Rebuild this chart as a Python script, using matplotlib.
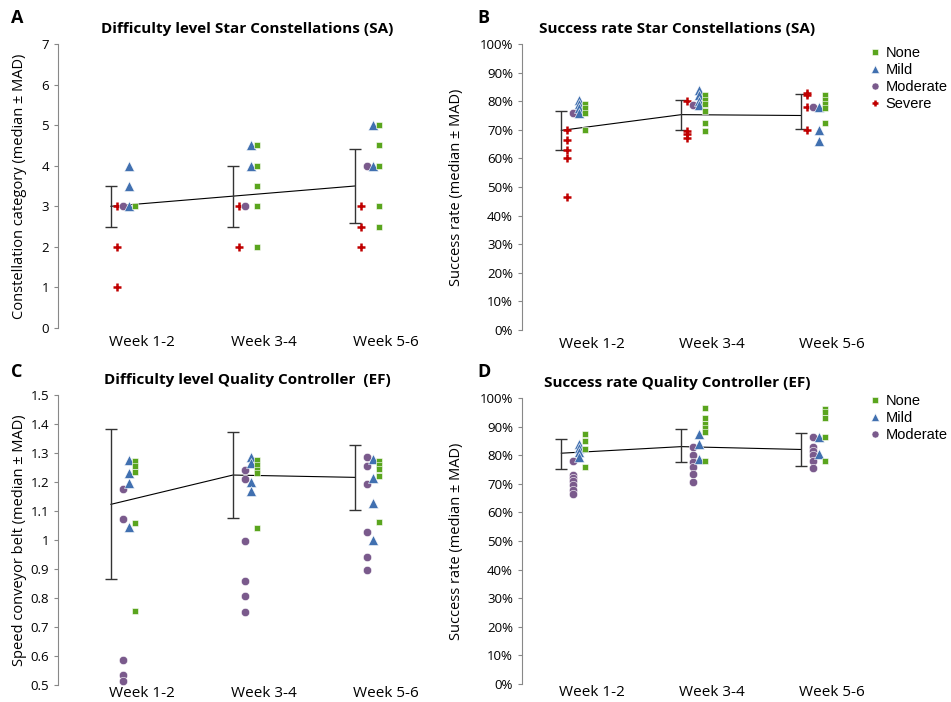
import matplotlib
matplotlib.use("Agg")
import matplotlib.pyplot as plt
from matplotlib.ticker import FuncFormatter, MultipleLocator

plt.rcParams['font.family'] = ['Open Sans', 'DejaVu Sans']

weeks = ["Week 1-2", "Week 3-4", "Week 5-6"]

# A: difficulty level, Star Constellations (SA)
sa_diff_none = [[3], [4.5, 4, 3.5, 3, 2], [5, 4.5, 4, 3, 2.5]]
sa_diff_mild = [[4, 3.5, 3], [4.5, 4], [5, 4]]
sa_diff_moderate = [[3], [3], [4]]
sa_diff_severe = [[3, 2, 1], [3, 2], [3, 2.5, 2]]
sa_diff_median = [3.0, 3.25, 3.5]
sa_diff_lo = [2.5, 2.5, 2.6]
sa_diff_hi = [3.5, 4.0, 4.4]

# B: success rate, Star Constellations (SA)
sa_rate_none = [[79, 77.5, 76, 70], [82, 80.5, 79, 76.5, 72.5, 69.5], [82, 80.5, 79, 77.5, 72.5]]
sa_rate_mild = [[80.5, 79, 77.5, 76], [84, 82, 80, 78.5], [78, 70, 66]]
sa_rate_moderate = [[76], [78.5], [78]]
sa_rate_severe = [[70, 66.5, 63, 60, 46.5], [80, 69.5, 68.5, 67], [83, 82, 78, 70]]
sa_rate_median = [69.8, 75.3, 75.0]
sa_rate_lo = [62.8, 70.0, 70.3]
sa_rate_hi = [76.4, 80.4, 82.4]

# C: difficulty level, Quality Controller (EF)
ef_diff_none = [[1.273, 1.255, 1.236, 1.058, 0.755], [1.276, 1.259, 1.241, 1.23, 1.04],
                [1.273, 1.259, 1.244, 1.22, 1.062]]
ef_diff_mild = [[1.276, 1.23, 1.198, 1.046], [1.287, 1.264, 1.201, 1.169], [1.28, 1.214, 1.129, 0.999]]
ef_diff_moderate = [[1.176, 1.071, 0.585, 0.535, 0.515], [1.24, 1.212, 0.998, 0.86, 0.808, 0.752],
                    [1.286, 1.255, 1.193, 1.027, 0.941, 0.895]]
ef_diff_median = [1.123, 1.224, 1.216]
ef_diff_lo = [0.864, 1.076, 1.103]
ef_diff_hi = [1.382, 1.373, 1.328]

# D: success rate, Quality Controller (EF)
ef_rate_none = [[87.5, 85, 82, 76], [96.5, 93, 91, 89.5, 88, 78], [96, 95, 93, 86.5, 78]]
ef_rate_mild = [[84, 82.5, 81, 79.5], [87.5, 84, 78.5], [86.5, 80.5]]
ef_rate_moderate = [[78, 73, 72, 71, 69.5, 68, 66.5], [83, 80, 77.5, 76, 73.5, 70.5],
                    [86.5, 83, 81.5, 80, 78, 75.5]]
ef_rate_median = [80.7, 83.0, 82.0]
ef_rate_lo = [75.1, 77.5, 76.2]
ef_rate_hi = [85.8, 89.2, 87.7]

# group styles: marker, color, size, x offset from week position
styles = {
    "Severe": ("+", "#c00000", 5.5, -0.205),
    "Moderate": ("o", "#7a5a8c", 6.0, -0.155),
    "Mild": ("^", "#4170b0", 7.0, -0.105),
    "None": ("s", "#5aa51e", 4.8, -0.055),
}
BAR_OFF = -0.255

W, H = 951, 702
fig = plt.figure(figsize=(W / 100, H / 100), dpi=100)


def px_axes(x0, x1, ytop, ybot):
    return fig.add_axes([x0 / W, (H - ybot) / H, (x1 - x0) / W, (ybot - ytop) / H])


def draw(ax, groups, median, lo, hi):
    for name in ["Severe", "Moderate", "Mild", "None"]:
        if name not in groups:
            continue
        marker, color, ms, off = styles[name]
        for i, vals in enumerate(groups[name]):
            kw = dict(mew=1.8, mec=color) if marker == "+" else dict(mew=0.4, mec="white")
            ax.plot([i + off] * len(vals), vals, ls="none", marker=marker, color=color,
                    ms=ms, clip_on=False, zorder=3, label=name if i == 0 else None, **kw)
    xs = [i + BAR_OFF for i in range(3)]
    ax.plot(xs, median, color="black", lw=0.8, zorder=2)
    yerr = [[m - l for m, l in zip(median, lo)], [h - m for m, h in zip(median, hi)]]
    ax.errorbar(xs, median, yerr=yerr, fmt="none", ecolor="#333333", elinewidth=1,
                capsize=4, capthick=1, zorder=2)


def style(ax, title, ylabel, letter, xlim, title_x, xpad, ylab_x, letter_xy):
    for s in ["top", "right", "bottom"]:
        ax.spines[s].set_visible(False)
    ax.spines["left"].set_color("#888888")
    ax.set_xlim(*xlim)
    ax.set_xticks(range(3))
    ax.set_xticklabels(weeks, fontsize=11)
    ax.tick_params(axis="x", length=0, pad=xpad)
    ax.tick_params(axis="y", labelsize=9.5, length=3, color="#888888")
    ax.set_title(title, fontsize=11, fontweight="bold", x=title_x, pad=8)
    ax.set_ylabel(ylabel, fontsize=10.5)
    bbox = ax.get_position()
    ax.yaxis.set_label_coords((ylab_x / W - bbox.x0) / bbox.width, 0.5)
    fig.text(letter_xy[0] / W, 1 - letter_xy[1] / H, letter, fontsize=13,
             fontweight="bold", va="center")


pct = FuncFormatter(lambda v, p: f"{v:.0f}%")
num = FuncFormatter(lambda v, p: f"{v:g}")

xl_left = (-0.689, 2.443)
xl_right = (-0.583, 2.317)

axA = px_axes(58, 440, 44, 328)
draw(axA, {"None": sa_diff_none, "Mild": sa_diff_mild, "Moderate": sa_diff_moderate,
           "Severe": sa_diff_severe}, sa_diff_median, sa_diff_lo, sa_diff_hi)
style(axA, "Difficulty level Star Constellations (SA)", "Constellation category (median ± MAD)",
      "A", xl_left, 0.495, 5, 27, (11, 18))
axA.set_ylim(0, 7)
axA.yaxis.set_major_locator(MultipleLocator(1))

axB = px_axes(522, 870, 44, 330)
draw(axB, {"None": sa_rate_none, "Mild": sa_rate_mild, "Moderate": sa_rate_moderate,
           "Severe": sa_rate_severe}, sa_rate_median, sa_rate_lo, sa_rate_hi)
style(axB, "Success rate Star Constellations (SA)", "Success rate (median ± MAD)",
      "B", xl_right, 0.445, 5, 464, (477, 18))
axB.set_ylim(0, 100)
axB.yaxis.set_major_locator(MultipleLocator(10))
axB.yaxis.set_major_formatter(pct)

axC = px_axes(58, 440, 395, 685)
draw(axC, {"None": ef_diff_none, "Mild": ef_diff_mild, "Moderate": ef_diff_moderate},
     ef_diff_median, ef_diff_lo, ef_diff_hi)
style(axC, "Difficulty level Quality Controller  (EF)", "Speed conveyor belt (median ± MAD)",
      "C", xl_left, 0.495, 1, 27, (11, 372))
axC.set_ylim(0.5, 1.5)
axC.yaxis.set_major_locator(MultipleLocator(0.1))
axC.yaxis.set_major_formatter(num)

axD = px_axes(522, 870, 398, 684)
draw(axD, {"None": ef_rate_none, "Mild": ef_rate_mild, "Moderate": ef_rate_moderate},
     ef_rate_median, ef_rate_lo, ef_rate_hi)
style(axD, "Success rate Quality Controller (EF)", "Success rate (median ± MAD)",
      "D", xl_right, 0.445, 1, 464, (477, 372))
axD.set_ylim(0, 100)
axD.yaxis.set_major_locator(MultipleLocator(10))
axD.yaxis.set_major_formatter(pct)

for ax, y in [(axB, 46), (axD, 394)]:
    h, l = ax.get_legend_handles_labels()
    order = ["None", "Mild", "Moderate", "Severe"]
    pairs = sorted(zip(h, l), key=lambda t: order.index(t[1]))
    ax.legend([p[0] for p in pairs], [p[1] for p in pairs], loc="upper left",
              bbox_to_anchor=(869 / W, 1 - y / H), bbox_transform=fig.transFigure,
              frameon=False, handlelength=0.8, handletextpad=0.35,
              labelspacing=0.2, borderpad=0, borderaxespad=0, markerscale=0.85,
              prop={"family": "Liberation Sans", "size": 10.5})

fig.savefig("out.png", dpi=100)
